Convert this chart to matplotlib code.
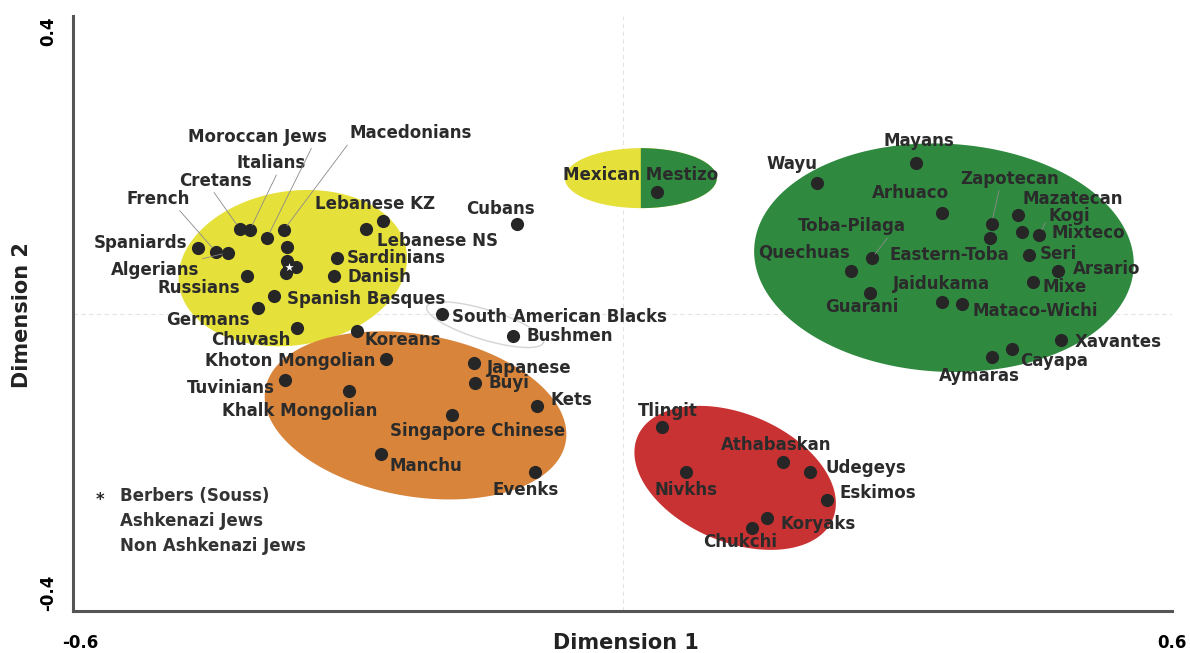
import numpy as np
import matplotlib
matplotlib.use('Agg')
import matplotlib.pyplot as plt

plt.rcParams['font.family'] = ['DejaVu Sans']

TXT = '#2b2b2b'

# population coordinates on the two MDS dimensions
populations = [
    'Spaniards', 'French', 'Algerians', 'Cretans', 'Italians', 'Moroccan Jews',
    'Macedonians', 'Ashkenazi Jews', 'Non Ashkenazi Jews', '', '', 'Berbers (Souss)',
    'Russians', 'Spanish Basques', 'Germans', 'Chuvash', 'Sardinians', 'Danish',
    'Lebanese KZ', 'Lebanese NS', 'Cubans',
    'South American Blacks', 'Bushmen', 'Koreans', 'Khoton Mongolian', 'Japanese',
    'Buyi', 'Tuvinians', 'Khalk Mongolian', 'Kets', 'Singapore Chinese', 'Manchu',
    'Evenks', 'Mexican Mestizo',
    'Mayans', 'Wayu', 'Arhuaco', 'Zapotecan', 'Eastern-Toba', 'Mazatecan', 'Kogi',
    'Mixteco', 'Toba-Pilaga', 'Quechuas', 'Seri', 'Arsario', 'Mixe', 'Jaidukama',
    'Mataco-Wichi', 'Guarani', 'Xavantes', 'Cayapa', 'Aymaras',
    'Tlingit', 'Nivkhs', 'Athabaskan', 'Udegeys', 'Eskimos', 'Koryaks', 'Chukchi',
]
dim1 = [
    -0.464, -0.444, -0.431, -0.418, -0.407, -0.388,
    -0.370, -0.366, -0.366, -0.357, -0.367, -0.364,
    -0.410, -0.381, -0.398, -0.355, -0.312, -0.315,
    -0.280, -0.262, -0.115,
    -0.197, -0.120, -0.290, -0.258, -0.162,
    -0.161, -0.369, -0.299, -0.093, -0.186, -0.264,
    -0.095, 0.038,
    0.321, 0.212, 0.349, 0.403, 0.401, 0.432, 0.455,
    0.436, 0.272, 0.250, 0.444, 0.476, 0.448, 0.349,
    0.371, 0.270, 0.479, 0.425, 0.404,
    0.043, 0.069, 0.175, 0.205, 0.223, 0.158, 0.141,
]
dim2 = [
    0.088, 0.083, 0.082, 0.114, 0.112, 0.102,
    0.112, 0.090, 0.071, 0.063, 0.055, 0.063,
    0.050, 0.023, 0.007, -0.019, 0.075, 0.051,
    0.114, 0.124, 0.121,
    0.000, -0.030, -0.024, -0.061, -0.066,
    -0.094, -0.090, -0.104, -0.125, -0.137, -0.189,
    -0.213, 0.163,
    0.203, 0.176, 0.135, 0.121, 0.102, 0.133, 0.106,
    0.110, 0.074, 0.057, 0.079, 0.057, 0.042, 0.016,
    0.013, 0.028, -0.036, -0.048, -0.059,
    -0.152, -0.213, -0.199, -0.213, -0.251, -0.275, -0.288,
]

# cluster ellipses: centre in data units, size in pixels, tilt in degrees
cluster_x = [-0.360, -0.226, 0.351, 0.123]
cluster_y = [0.061, -0.137, 0.075, -0.221]
cluster_w = [230, 305, 380, 212]
cluster_h = [154, 162, 228, 128]
cluster_ang = [9, -10, -3, -23]
cluster_col = ['#e6e03b', '#d8843a', '#2f8a40', '#c83232']

legend_labels = ['Berbers (Souss)', 'Ashkenazi Jews', 'Non Ashkenazi Jews']

# label placement: offset in pixels from the dot, horizontal alignment
label_pos = {
    'Spaniards': (-10, 5, 'right'), 'French': (-26, 53, 'right'),
    'Algerians': (-28, -17, 'right'), 'Cretans': (-24, 48, 'center'),
    'Italians': (21, 67, 'center'), 'Moroccan Jews': (-10, 101, 'center'),
    'Macedonians': (127, 97, 'center'), 'Russians': (-7, -12, 'right'),
    'Spanish Basques': (13, -3, 'left'), 'Germans': (-8, -12, 'right'),
    'Chuvash': (-7, -12, 'right'), 'Sardinians': (10, 0, 'left'),
    'Danish': (13, -1, 'left'), 'Lebanese KZ': (9, 25, 'center'),
    'Lebanese NS': (-6, -20, 'left'), 'Cubans': (-17, 15, 'center'),
    'South American Blacks': (10, -4, 'left'), 'Bushmen': (14, 0, 'left'),
    'Koreans': (8, -9, 'left'), 'Khoton Mongolian': (-11, -2, 'right'),
    'Japanese': (13, -5, 'left'), 'Buyi': (13, 0, 'left'),
    'Tuvinians': (-10, -8, 'right'), 'Khalk Mongolian': (29, -20, 'right'),
    'Kets': (13, 6, 'left'), 'Singapore Chinese': (25, -16, 'center'),
    'Manchu': (9, -12, 'left'), 'Evenks': (-10, -18, 'center'),
    'Mexican Mestizo': (-17, 17, 'center'),
    'Mayans': (2, 22, 'center'), 'Wayu': (-25, 19, 'center'),
    'Arhuaco': (-32, 20, 'center'), 'Zapotecan': (18, 45, 'center'),
    'Eastern-Toba': (-40, -17, 'center'), 'Mazatecan': (4, 16, 'left'),
    'Kogi': (9, 19, 'left'), 'Mixteco': (30, -1, 'left'),
    'Toba-Pilaga': (-20, 32, 'center'), 'Quechuas': (-2, 19, 'right'),
    'Seri': (11, 1, 'left'), 'Arsario': (14, 2, 'left'), 'Mixe': (10, -5, 'left'),
    'Jaidukama': (-1, 18, 'center'), 'Mataco-Wichi': (10, -7, 'left'),
    'Guarani': (-8, -14, 'center'), 'Xavantes': (14, -2, 'left'),
    'Cayapa': (8, -12, 'left'), 'Aymaras': (-13, -19, 'center'),
    'Tlingit': (6, 16, 'center'), 'Nivkhs': (0, -18, 'center'),
    'Athabaskan': (-7, 17, 'center'), 'Udegeys': (15, 4, 'left'),
    'Eskimos': (13, 7, 'left'), 'Koryaks': (13, -6, 'left'),
    'Chukchi': (-12, -14, 'center'),
}
leaders = {
    'French': (0.8, 0), 'Algerians': (0.95, 1), 'Cretans': (0.45, 0),
    'Italians': (0.6, 0), 'Moroccan Jews': (0.9, 0), 'Macedonians': (0, 0),
    'Zapotecan': (0.4, 0), 'Kogi': (0, 0.4), 'Toba-Pilaga': (0.85, 0),
}

fig = plt.figure(figsize=(11.9, 6.53), dpi=100)
ax = fig.add_axes([73 / 1190, 42 / 653, 1099 / 1190, 595 / 653])
ax.set_xlim(-0.6, 0.6)
ax.set_ylim(-0.4, 0.4)
sx = ax.bbox.width / 1.2
sy = ax.bbox.height / 0.8


def ellipse(cx, cy, w, h, ang, t0=0, t1=360):
    t = np.radians(np.linspace(t0, t1, 240))
    th = np.radians(ang)
    a, b = w / 2, h / 2
    ex = a * np.cos(t) * np.cos(th) - b * np.sin(t) * np.sin(th)
    ey = a * np.cos(t) * np.sin(th) + b * np.sin(t) * np.cos(th)
    return cx + ex / sx, cy + ey / sy


ax.axvline(0, color='#e4e4e4', lw=0.8, ls=(0, (4, 3)), zorder=0)
ax.axhline(0, color='#e4e4e4', lw=0.8, ls=(0, (4, 3)), zorder=0)

for cx, cy, w, h, a, c in zip(cluster_x, cluster_y, cluster_w, cluster_h, cluster_ang, cluster_col):
    ex, ey = ellipse(cx, cy, w, h, a)
    ax.fill(ex, ey, color=c, lw=0, zorder=1)

# Mexican Mestizo: half yellow, half green
ex, ey = ellipse(0.020, 0.182, 152, 60, 0)
ax.fill(ex, ey, color=cluster_col[0], lw=0, zorder=1)
ex, ey = ellipse(0.020, 0.182, 152, 60, 0, -90, 90)
ax.fill(ex, ey, color=cluster_col[2], lw=0, zorder=1)

# faint outline around South American Blacks / Bushmen
ex, ey = ellipse(-0.150, -0.015, 122, 30, -17)
ax.plot(ex, ey, color='#d4d4d4', lw=1, zorder=2)

ax.scatter(dim1, dim2, s=90, color='#262626', lw=0, zorder=3)
bi = populations.index('Berbers (Souss)')
ax.scatter([dim1[bi]], [dim2[bi]], s=40, marker='*', color='white', lw=0, zorder=4)

for name, x, y in zip(populations, dim1, dim2):
    if name not in label_pos:
        continue
    dx, dy, ha = label_pos[name]
    kw = {}
    if name in leaders:
        kw['arrowprops'] = dict(arrowstyle='-', color='#8a8a8a', lw=0.6,
                                relpos=leaders[name], shrinkA=0, shrinkB=4)
    ax.annotate(name, (x, y), xytext=(dx, dy), textcoords='offset pixels',
                ha=ha, va='center', fontsize=12, fontweight='bold', color=TXT,
                zorder=5, **kw)

# legend block
ax.text(-0.571, -0.251, '*', ha='center', va='center', fontsize=12,
        fontweight='bold', color=TXT)
for i, lab in enumerate(legend_labels):
    ax.text(-0.549, -0.246 - i * 0.033, lab, ha='left', va='center', fontsize=12,
            fontweight='bold', color='#333333')

for s in ['top', 'right']:
    ax.spines[s].set_visible(False)
for s in ['left', 'bottom']:
    ax.spines[s].set_color('#555555')
    ax.spines[s].set_linewidth(2.2)
ax.set_xticks([])
ax.set_yticks([])

xt = ax.get_xaxis_transform()
yt = ax.get_yaxis_transform()
ax.text(-0.592, -0.054, '-0.6', transform=xt, ha='center', va='center',
        fontsize=12, fontweight='bold', color='black')
ax.text(0.6, -0.054, '0.6', transform=xt, ha='center', va='center',
        fontsize=12, fontweight='bold', color='black')
ax.text(-0.0227, 0.4, '0.4', transform=yt, ha='center', va='top', rotation=90,
        fontsize=12, fontweight='bold', color='black')
ax.text(-0.0227, -0.4, '-0.4', transform=yt, ha='center', va='bottom', rotation=90,
        fontsize=12, fontweight='bold', color='black')
ax.text(0.503, -0.054, 'Dimension 1', transform=ax.transAxes, ha='center', va='center',
        fontsize=15, fontweight='bold', color='#222222')
ax.text(-0.0464, 0.498, 'Dimension 2', transform=ax.transAxes, ha='center', va='center',
        rotation=90, fontsize=15, fontweight='bold', color='#222222')

fig.savefig('out.png', dpi=100)
